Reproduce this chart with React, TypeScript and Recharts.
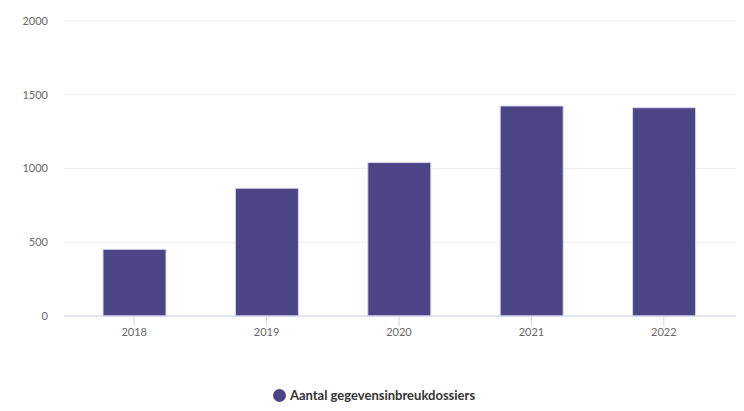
import { Bar, BarChart, CartesianGrid, Legend, XAxis, YAxis } from 'recharts'

const jaren = ['2018', '2019', '2020', '2021', '2022']
const dossiers = [452, 866, 1040, 1424, 1412]
const yTicks = [0, 500, 1000, 1500, 2000]

const data = jaren.map((jaar, i) => ({ jaar, dossiers: dossiers[i] }))

const App = () => {
  return (
    <div style={{ position: 'absolute', left: 0, top: 0, width: 744, height: 411, background: '#fff', fontFamily: 'Lato, sans-serif' }}>
      <BarChart width={744} height={411} data={data} margin={{ top: 21, right: 8, left: 0, bottom: 65 }}>
        <CartesianGrid vertical={false} stroke="#eeeeee" />
        <XAxis
          dataKey="jaar"
          padding={{ left: 4, right: 6 }}
          height={30}
          stroke="#ccd6eb"
          tickSize={10}
          tickMargin={2}
          tick={{ fill: '#666666', fontSize: 11 }}
        />
        <YAxis
          width={64}
          domain={[0, 2000]}
          ticks={yTicks}
          axisLine={false}
          tickLine={false}
          tickSize={0}
          tickMargin={16}
          tick={{ fill: '#666666', fontSize: 11 }}
        />
        <Legend
          verticalAlign="middle"
          align="center"
          iconType="circle"
          iconSize={13}
          wrapperStyle={{ top: 384, left: 260, width: 238 }}
          formatter={(value) => <span style={{ color: '#333333', fontWeight: 700, fontSize: 13 }}>{value}</span>}
        />
        <Bar
          dataKey="dossiers"
          name="Aantal gegevensinbreukdossiers"
          fill="#4b4585"
          stroke="#d6d6f0"
          strokeWidth={1}
          barSize={63}
          isAnimationActive={false}
        />
      </BarChart>
    </div>
  )
}

export default App
